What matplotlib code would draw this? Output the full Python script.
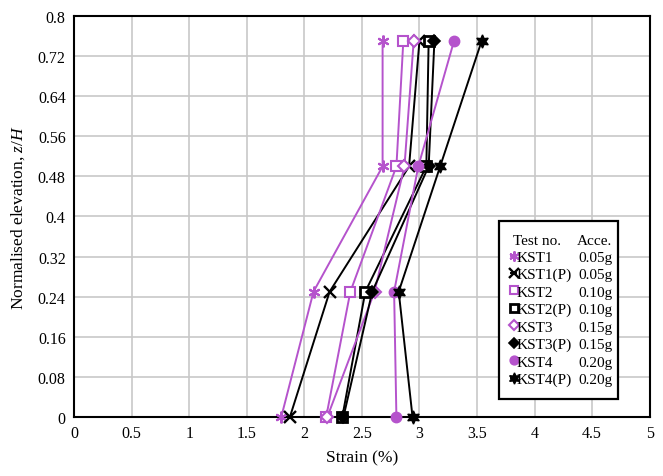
import numpy as np
import matplotlib
matplotlib.use("Agg")
import matplotlib.pyplot as plt

plt.rcParams['font.family'] = ['Liberation Serif', 'DejaVu Serif']
plt.rcParams['mathtext.fontset'] = 'custom'
plt.rcParams['mathtext.it'] = 'Liberation Serif:italic'
plt.rcParams['mathtext.rm'] = 'Liberation Serif'

PURPLE = '#B553CC'

elevation = [0.75, 0.5, 0.25, 0.0]

tests = ['KST1', 'KST1(P)', 'KST2', 'KST2(P)', 'KST3', 'KST3(P)', 'KST4', 'KST4(P)']
acce = ['0.05g', '0.05g', '0.10g', '0.10g', '0.15g', '0.15g', '0.20g', '0.20g']

kst1 = [2.68, 2.68, 2.08, 1.80]
kst1_p = [3.00, 2.91, 2.22, 1.875]
kst2 = [2.86, 2.80, 2.40, 2.19]
kst2_p = [3.08, 3.06, 2.53, 2.33]
kst3 = [2.95, 2.87, 2.61, 2.20]
kst3_p = [3.13, 3.08, 2.59, 2.34]
kst4 = [3.30, 2.99, 2.78, 2.80]
kst4_p = [3.54, 3.18, 2.82, 2.94]

strains = [kst1, kst1_p, kst2, kst2_p, kst3, kst3_p, kst4, kst4_p]

styles = [
    dict(color=PURPLE, marker=(6, 2, 0), ms=8.5, mew=1.5, mfc=PURPLE),
    dict(color='black', marker='x', ms=8, mew=1.7, mfc='black'),
    dict(color=PURPLE, marker='s', ms=7.5, mew=1.5, mfc='white'),
    dict(color='black', marker='s', ms=7.5, mew=2.0, mfc='white'),
    dict(color=PURPLE, marker='D', ms=6, mew=1.5, mfc='white'),
    dict(color='black', marker='D', ms=6.5, mew=1.2, mfc='black'),
    dict(color=PURPLE, marker='o', ms=7.5, mew=1.0, mfc=PURPLE),
    dict(color='black', marker=(6, 1, 0), ms=9.5, mew=1.0, mfc='black'),
]

fig = plt.figure(figsize=(6.63, 4.77), dpi=100)
ax = fig.add_axes([0.1116, 0.1237, 0.8684, 0.8407])

for name, x, st in zip(tests, strains, styles):
    ax.plot(x, elevation, lw=1.4, label=name, clip_on=False, zorder=3,
            color=st['color'], marker=st['marker'], ms=st['ms'],
            mew=st['mew'], mfc=st['mfc'], mec=st['color'])

ax.set_xlim(0, 5)
ax.set_ylim(0, 0.8)
ax.set_xticks(np.arange(0, 5.01, 0.5))
ax.set_xticklabels(['0', '0.5', '1', '1.5', '2', '2.5', '3', '3.5', '4', '4.5', '5'])
ax.set_yticks(np.arange(0, 0.81, 0.08))
ax.set_yticklabels(['0', '0.08', '0.16', '0.24', '0.32', '0.4', '0.48',
                    '0.56', '0.64', '0.72', '0.8'])
ax.tick_params(length=0, labelsize=11.5, pad=6)
ax.grid(True, color='#c8c8c8', lw=1.2)
ax.set_axisbelow(True)
for sp in ax.spines.values():
    sp.set_linewidth(1.5)
    sp.set_color('black')

ax.set_xlabel('Strain (%)', fontsize=12.5, labelpad=6)
ax.set_ylabel('Normalised elevation, $z/H$', fontsize=12.5, labelpad=8)

leg = ax.legend(loc='upper left', bbox_to_anchor=(0.738, 0.05, 0.2066, 0.4388),
                mode='expand', title='Test no.', title_fontsize=11,
                fontsize=11, handlelength=0.3, handletextpad=0.05,
                labelspacing=0.24, borderpad=0.82, markerscale=0.85,
                fancybox=False, framealpha=1, edgecolor='black',
                borderaxespad=0)
leg.get_frame().set_linewidth(1.6)
leg._legend_box.align = 'left'
leg.get_title().set_position((2, 0))
leg.set_zorder(5)

# acceleration column next to each legend entry
fig.canvas.draw()
inv = ax.transAxes.inverted()
tb = leg.get_title().get_window_extent()
_, yt = inv.transform((0, (tb.y0 + tb.y1) / 2))
ax.text(0.873, yt, 'Acce.', transform=ax.transAxes, fontsize=11,
        ha='left', va='center', zorder=6)
for txt, a in zip(leg.get_texts(), acce):
    bb = txt.get_window_extent()
    _, yc = inv.transform((0, (bb.y0 + bb.y1) / 2))
    ax.text(0.876, yc, a, transform=ax.transAxes, fontsize=11,
            ha='left', va='center', zorder=6)

fig.savefig('out.png', dpi=100)
